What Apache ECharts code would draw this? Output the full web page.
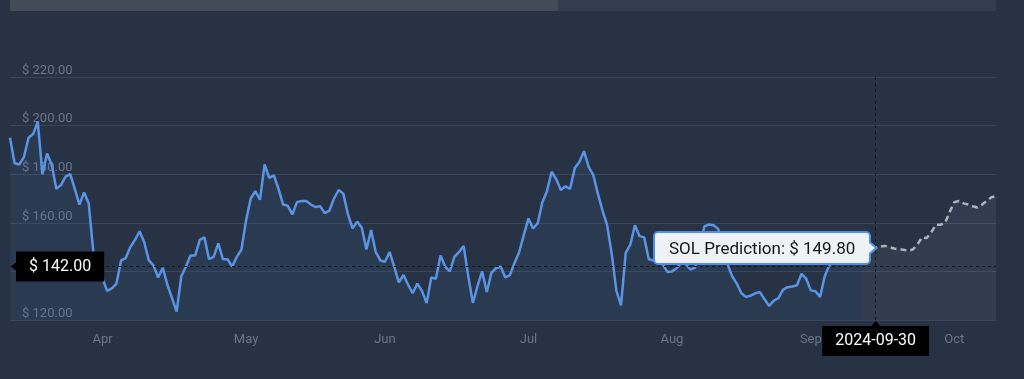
<!DOCTYPE html>
<html>
<head>
<meta charset="utf-8">
<script src="https://cdn.jsdelivr.net/npm/echarts@6/dist/echarts.min.js"></script>
<style>
html,body{margin:0;padding:0;background:#273345;overflow:hidden;}
#c{width:1024px;height:379px;}
</style>
</head>
<body>
<div id="c"></div>
<script>
// ---- data ----
const startDate = '2024-03-27';
const histValues = [
  195,184.5,184,187,195,196.5,201.5,180,188.5,184,
  174,175.5,179,180,174,167.5,172.5,168,148,142,
  137,132,133,135,144.5,145.5,150,153,156.5,152,
  144.5,142.5,137.5,141.5,134.5,129,123.5,138,142,146.5,
  146.5,153,154,145,146,151.5,145,145,142,146,
  149,161,170,173,169.5,184,178.5,179.5,174,167.5,
  167,163.5,168.5,169,169,167.5,166.5,166.8,164,165,
  170,173.5,172,163.5,157.7,160.5,158,149,157,148,
  144.5,144,148,142,135.5,138.5,134.5,131,135,132,
  127,137.5,137,146.5,142,140,146,148,150.5,138,
  127,134,140,131.5,139.5,141.3,142,137.5,138.5,143.5,
  148,155,161.8,157.7,159.8,168.5,173,181,178,173.5,
  175,174,182.5,185,189.5,183,179.7,172,165,159,
  147,132,126,147.5,151,159,154.5,154,145,144.5,
  144,143,139.8,140,141.3,143.5,143,140.8,141.5,150,
  158.5,159.3,159,157.5,150,143,138,135,131,129.5,
  130,131,131.5,128.5,125.8,128,129,132.5,133.5,133.8,
  134.3,139,137,132.2,131.8,129.5,138,142.5,144,145,
  144.5,145.5,146.5,147,148
];
const predValues = [
  148,148.7,149.3,149.8,150.2,150.5,150,149.4,149,148.9,
  148.5,149,151,154,153.7,156,159.2,159.2,160,164.5,
  168.5,169,168,167.5,166.8,166.3,167.5,169,170.5,171
];
const monthLabels = ['Jan','Feb','Mar','Apr','May','Jun','Jul','Aug','Sep','Oct','Nov','Dec'];
const yMin = 120, yMax = 220, yStep = 20;
const histName = 'SOL Price';
const predName = 'SOL Prediction';
const tooltipDate = '2024-09-30';
const pointerPrice = 142.00;

// ---- build categories ----
const totalDays = histValues.length - 1 + predValues.length;
const dates = [];
const t0 = new Date(startDate + 'T00:00:00Z').getTime();
for (let i = 0; i < totalDays; i++) {
  dates.push(new Date(t0 + i * 86400000).toISOString().slice(0, 10));
}
const predData = new Array(histValues.length - 1).fill('-').concat(predValues);
const tipIndex = dates.indexOf(tooltipDate);
const tipValue = predData[tipIndex];

function isMidMonth(value) {
  const p = value.split('-').map(Number);
  const dim = new Date(Date.UTC(p[0], p[1], 0)).getUTCDate();
  return p[2] === Math.floor((dim + 1) / 2) + 1;
}

const FONT = 'Roboto';
const POINTER_LINE = { color: '#111925', width: 1, type: [3, 3] };
const chart = echarts.init(document.getElementById('c'));

const arrowHtml =
  '<span style="position:absolute;right:-9px;top:50%;margin-top:-7px;width:0;height:0;border-top:7px solid transparent;border-bottom:7px solid transparent;border-left:8px solid #4f8fe3;"></span>' +
  '<span style="position:absolute;right:-6px;top:50%;margin-top:-5px;width:0;height:0;border-top:5px solid transparent;border-bottom:5px solid transparent;border-left:6px solid #eff1f4;"></span>';

const pointerLabel = {
  backgroundColor: '#000',
  color: '#fff',
  fontSize: 16,
  fontFamily: FONT,
  padding: [7, 13],
  borderRadius: 0,
  shadowBlur: 0,
  margin: 6,
  formatter: (p) => p.axisDimension === 'y' ? '$ ' + Number(p.value).toFixed(2) : p.value
};

const option = {
  backgroundColor: '#273345',
  animation: false,
  grid: { left: 10, right: 28, top: 77, bottom: 59, containLabel: false },
  xAxis: {
    type: 'category',
    data: dates,
    boundaryGap: false,
    axisLine: { show: true, lineStyle: { color: '#38455a', width: 1 } },
    axisTick: { show: false },
    splitLine: { show: false },
    axisPointer: { lineStyle: POINTER_LINE, label: pointerLabel },
    axisLabel: {
      interval: (idx, val) => isMidMonth(val),
      formatter: (val) => monthLabels[Number(val.split('-')[1]) - 1],
      color: '#6b7588',
      fontSize: 13,
      fontFamily: FONT,
      margin: 13
    }
  },
  yAxis: {
    type: 'value',
    min: yMin, max: yMax, interval: yStep,
    axisLine: { show: false },
    axisTick: { show: false },
    splitLine: { lineStyle: { color: '#38455a', width: 1 } },
    axisPointer: { lineStyle: POINTER_LINE, label: pointerLabel },
    axisLabel: {
      inside: true,
      verticalAlign: 'bottom',
      margin: 12,
      color: '#6b7588',
      fontSize: 13,
      fontFamily: FONT,
      formatter: (v) => '$ ' + v.toFixed(2)
    }
  },
  tooltip: {
    trigger: 'axis',
    triggerOn: 'none',
    alwaysShowContent: true,
    transitionDuration: 0,
    backgroundColor: '#eff1f4',
    borderColor: '#4f8fe3',
    borderWidth: 2,
    padding: [5, 14],
    textStyle: { color: '#151515', fontSize: 17, fontFamily: FONT },
    extraCssText: 'box-shadow:none;border-radius:5px;overflow:visible;line-height:20px;',
    axisPointer: {
      type: 'cross',
      lineStyle: POINTER_LINE,
      crossStyle: POINTER_LINE,
      label: pointerLabel
    },
    formatter: (params) => {
      const p = params.find(q => q.seriesName === predName);
      const v = p ? Number(p.value) : tipValue;
      return predName + ': $ ' + v.toFixed(2) + arrowHtml;
    },
    position: (point, params, dom, rect, size) => {
      const px = chart.convertToPixel({ seriesIndex: 1 }, [tipIndex, tipValue]);
      return [px[0] - size.contentSize[0] - 5, px[1] - size.contentSize[1] / 2];
    }
  },
  series: [
    {
      name: histName,
      type: 'line',
      data: histValues,
      symbol: 'none',
      lineStyle: { color: '#5a94e4', width: 2.5 },
      itemStyle: { color: '#5a94e4' },
      areaStyle: { color: 'rgba(80,130,210,0.13)' },
      z: 3
    },
    {
      name: predName,
      type: 'line',
      data: predData,
      symbol: 'none',
      lineStyle: { color: '#9ea3aa', width: 2.5, type: [6, 4] },
      itemStyle: { color: '#9ea3aa' },
      areaStyle: { color: 'rgba(210,215,225,0.08)' },
      z: 2
    }
  ]
};
chart.setOption(option);

const pt = chart.convertToPixel({ gridIndex: 0 }, [tipIndex, pointerPrice]);
const gridLeft = chart.convertToPixel({ gridIndex: 0 }, [0, yMin]);
chart.setOption({
  graphic: [
    { type: 'rect', shape: { x: 10, y: 0, width: 548, height: 11 }, style: { fill: '#434a5a' }, z: 100 },
    { type: 'rect', shape: { x: 558, y: 0, width: 438, height: 11 }, style: { fill: '#333d4f' }, z: 100 },
    { type: 'polygon', shape: { points: [[gridLeft[0] + 1, pt[1]], [gridLeft[0] + 7, pt[1] - 5], [gridLeft[0] + 7, pt[1] + 5]] }, style: { fill: '#000' }, z: 100 },
    { type: 'polygon', shape: { points: [[pt[0], gridLeft[1] + 1], [pt[0] - 5, gridLeft[1] + 7], [pt[0] + 5, gridLeft[1] + 7]] }, style: { fill: '#000' }, z: 100 }
  ]
});
chart.dispatchAction({ type: 'showTip', x: pt[0], y: pt[1] });
</script>
</body>
</html>
